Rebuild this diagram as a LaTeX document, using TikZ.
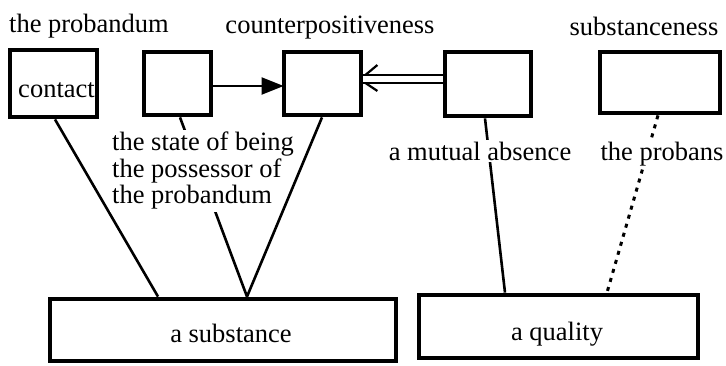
\documentclass[tikz,border=0pt]{standalone}
\usepackage{fontspec}
\setmainfont{Liberation Serif}
\usetikzlibrary{calc,arrows.meta}
\begin{document}
\begin{tikzpicture}[x=1pt,y=-1pt,
  box/.style={draw, line width=4.8pt, inner sep=0pt},
  lbl/.style={font=\fontsize{26.5pt}{26.5pt}\selectfont, inner sep=0pt},
  gap/.style={lbl, fill=white, inner sep=2pt},
  conn/.style={line width=2.6pt},
  dotconn/.style={line width=3pt, dash pattern=on 4pt off 5.4pt},
  thinconn/.style={line width=2.2pt}
]
\useasboundingbox (0,0) rectangle (726,365);

% boxes
\node[box, minimum width=87pt, minimum height=67pt] (A) at (53.5,83.5) {};
\node[box, minimum width=67pt, minimum height=63pt] (B) at (177.5,83.5) {};
\node[box, minimum width=77pt, minimum height=63pt] (C) at (322.5,83.5) {};
\node[box, minimum width=86pt, minimum height=64pt] (D) at (488,84) {};
\node[box, minimum width=120pt, minimum height=61pt] (E) at (660,82.5) {};
\node[box, minimum width=346pt, minimum height=62pt] (sub) at (223,330) {};
\node[box, minimum width=279pt, minimum height=63pt] (qual) at (558.5,326.5) {};

% texts inside boxes
\node[lbl, anchor=base] (tcontact) at ($(A.center)+(3,13.5)$) {contact};
\node[lbl, anchor=base] (tsub) at ($(sub.center)+(8,12)$) {a substance};
\node[lbl, anchor=base] (tqual) at ($(qual.center)+(-1.5,13.5)$) {a quality};

% headings above the boxes
\node[lbl, anchor=base] (hprob) at (89,32) {the probandum};
\node[lbl, anchor=base] (hcounter) at (330,33) {counterpositiveness};
\node[lbl, anchor=base] (hsubst) at (644,35) {substanceness};

% arrows between the upper boxes
\draw[thinconn, -{Triangle[length=22pt,width=17pt]}]
  ($(B.east)+(0,2.5)$) -- ($(C.west)+(2,2.5)$);
\draw[thinconn] (D.west |- 0,75) -- (C.east |- 0,75);
\draw[thinconn] (D.west |- 0,83) -- (C.east |- 0,83);
\draw[thinconn] ($(C.east |- 0,75)+(2,0)$) -- ++(12,-10);
\draw[thinconn] ($(C.east |- 0,83)+(2,0)$) -- ++(12,8);

% lines down to the lower boxes
\draw[conn] ($(A.south)+(1.5,0)$) -- (158,0 |- sub.north);
\draw[conn] ($(B.south)+(2.5,0)$) -- (247,0 |- sub.north);
\node[gap, anchor=north west, align=left] (tstate) at (110,130)
  {the state of being\\the possessor of\\the probandum};
\draw[conn] ($(C.south)+(-0.5,0)$) -- (247,0 |- sub.north);
\draw[conn] ($(D.south)+(-3,0)$) -- (505,0 |- qual.north);
\node[gap, anchor=base] (tmutual) at (480,160) {a mutual absence};
\draw[dotconn] ($(E.south)+(-2,0)$) -- (607,0 |- qual.north);
\node[gap, anchor=base] (tprobans) at (662,160) {the probans};
\end{tikzpicture}
\end{document}
